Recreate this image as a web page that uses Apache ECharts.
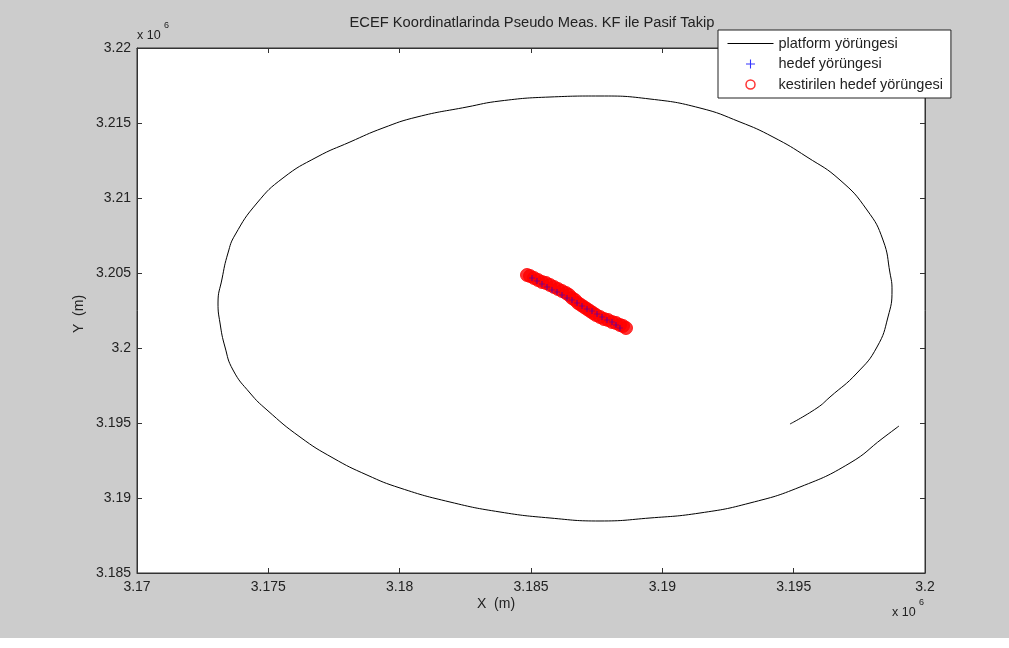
<!DOCTYPE html>
<html>
<head>
<meta charset="utf-8">
<script src="https://cdn.jsdelivr.net/npm/echarts@6/dist/echarts.min.js"></script>
<style>
  html, body { margin: 0; padding: 0; background: #ffffff; }
  #chart { width: 1009px; height: 638px; }
</style>
</head>
<body>
<div id="chart"></div>
<script>
"use strict";

// platform trajectory (x, y in metres)
var platformX = [3199010, 3198401, 3197145, 3195241, 3193338, 3191434, 3189530, 3187627, 3185723, 3183820,
  3181916, 3180013, 3178756, 3177462, 3176206, 3174949, 3174302, 3173655, 3173350, 3173160,
  3173084, 3173236, 3173464, 3173731, 3174569, 3175558, 3176853, 3178109, 3179365, 3180660,
  3182563, 3183820, 3185723, 3187627, 3189530, 3191434, 3192957, 3194213, 3195508, 3196764,
  3197792, 3198401, 3198667, 3198744, 3198591, 3198173, 3197411, 3196383, 3195888, 3194860];
var platformY = [3194800, 3194000, 3192333, 3190733, 3189667, 3189000, 3188667, 3188467, 3188667, 3189067,
  3189733, 3190667, 3191533, 3192667, 3194067, 3195867, 3197000, 3198533, 3200067, 3201667,
  3203000, 3204600, 3206333, 3207533, 3209667, 3211333, 3212733, 3213733, 3214667, 3215400,
  3216067, 3216467, 3216733, 3216800, 3216600, 3216000, 3215067, 3214067, 3212733, 3211200,
  3209200, 3207200, 3205000, 3203867, 3202067, 3200067, 3198333, 3196733, 3196000, 3194933];

// target trajectory
var targetX = [3185038, 3185228, 3185419, 3185609, 3185799, 3185990, 3186180, 3186371, 3186561, 3186751,
  3186942, 3187132, 3187322, 3187513, 3187703, 3187893, 3188084, 3188236, 3188388];
var targetY = [3204667, 3204467, 3204267, 3204067, 3203867, 3203733, 3203533, 3203333, 3203200, 3203000,
  3202800, 3202600, 3202467, 3202267, 3202067, 3201867, 3201733, 3201533, 3201333];

// estimated target trajectory
var estX = [3184848, 3184962, 3185114, 3185266, 3185419, 3185571, 3185723, 3185876, 3186028, 3186180,
  3186332, 3186447, 3186561, 3186675, 3186789, 3186904, 3187018, 3187132, 3187246, 3187360,
  3187475, 3187627, 3187779, 3187931, 3188084, 3188236, 3188388, 3188503, 3188617];
var estY = [3204867, 3204800, 3204667, 3204533, 3204400, 3204333, 3204200, 3204067, 3203933, 3203800,
  3203667, 3203533, 3203333, 3203200, 3203000, 3202867, 3202733, 3202600, 3202467, 3202333,
  3202200, 3202067, 3201933, 3201867, 3201733, 3201667, 3201533, 3201467, 3201333];

var xTicks = { min: 3170000, max: 3200000, step: 5000 };
var yTicks = { min: 3185000, max: 3220000, step: 5000 };

var seriesNames = ['platform yörüngesi', 'hedef yörüngesi', 'kestirilen hedef yörüngesi'];

function pairs(xs, ys) {
  var out = [];
  for (var i = 0; i < xs.length; i++) {
    out.push([xs[i], ys[i]]);
  }
  return out;
}

function scaled(v) {
  return String(parseFloat((v / 1e6).toFixed(3)));
}

var FONT = 'Liberation Sans, Arial, sans-serif';
var INK = '#222222';
var PLUS = 'path://M-0.6,-5H0.6V-0.6H5V0.6H0.6V5H-0.6V0.6H-5V-0.6H-0.6Z';

var chart = echarts.init(document.getElementById('chart'));

function axisBase(t) {
  return {
    type: 'value',
    min: t.min,
    max: t.max,
    interval: t.step,
    splitLine: { show: false },
    axisLine: { show: true, lineStyle: { color: '#333', width: 1 } },
    axisTick: { show: true, inside: true, length: 5, lineStyle: { color: '#333' } },
    axisLabel: { show: false }
  };
}

var xBottom = axisBase(xTicks);
xBottom.position = 'bottom';
xBottom.axisLabel = { show: true, formatter: scaled, color: INK, fontFamily: FONT, fontSize: 14, margin: 7 };
var xTop = axisBase(xTicks);
xTop.position = 'top';

var yLeft = axisBase(yTicks);
yLeft.position = 'left';
yLeft.axisLabel = { show: true, formatter: scaled, color: INK, fontFamily: FONT, fontSize: 14, margin: 6 };
var yRight = axisBase(yTicks);
yRight.position = 'right';

var option = {
  backgroundColor: '#cccccc',
  animation: false,
  title: {
    text: 'ECEF Koordinatlarinda Pseudo Meas. KF ile Pasif Takip',
    left: 527,
    top: 10,
    textAlign: 'center',
    textStyle: { fontFamily: FONT, fontSize: 14.7, fontWeight: 'normal', color: INK }
  },
  grid: {
    left: 137, right: 84, top: 48, bottom: 65,
    show: true,
    backgroundColor: '#ffffff',
    borderColor: '#333',
    borderWidth: 1
  },
  legend: {
    orient: 'vertical',
    left: 718,
    top: 30,
    backgroundColor: '#ffffff',
    borderColor: '#222',
    borderWidth: 1,
    borderRadius: 0,
    padding: [6, 8, 6, 9],
    itemWidth: 46,
    itemHeight: 9,
    itemGap: 5.5,
    textStyle: { fontFamily: FONT, fontSize: 14.5, color: INK, lineHeight: 14 },
    data: [
      { name: seriesNames[0], itemStyle: { opacity: 0 }, lineStyle: { width: 1, color: '#000' } },
      { name: seriesNames[1], icon: PLUS },
      { name: seriesNames[2], itemStyle: { color: 'rgba(255,0,0,0)', borderColor: '#ff0000', borderWidth: 1.5 } }
    ]
  },
  xAxis: [xBottom, xTop],
  yAxis: [yLeft, yRight],
  graphic: [
    { type: 'text', x: 477, y: 597, style: { text: 'X  (m)', fontFamily: FONT, fontSize: 14, fill: INK } },
    { type: 'text', x: 72, y: 333, rotation: Math.PI / 2,
      style: { text: 'Y  (m)', fontFamily: FONT, fontSize: 14, fill: INK } },
    { type: 'text', x: 137, y: 29, style: { text: 'x 10', fontFamily: FONT, fontSize: 12.5, fill: INK } },
    { type: 'text', x: 164, y: 21, style: { text: '6', fontFamily: FONT, fontSize: 9, fill: INK } },
    { type: 'text', x: 892, y: 606, style: { text: 'x 10', fontFamily: FONT, fontSize: 12.5, fill: INK } },
    { type: 'text', x: 919, y: 598, style: { text: '6', fontFamily: FONT, fontSize: 9, fill: INK } }
  ],
  series: [
    {
      name: seriesNames[0],
      type: 'line',
      data: pairs(platformX, platformY),
      smooth: 0.5,
      showSymbol: false,
      symbol: 'none',
      lineStyle: { color: '#000000', width: 1 },
      itemStyle: { color: '#000000' },
      z: 2
    },
    {
      name: seriesNames[1],
      type: 'scatter',
      data: pairs(targetX, targetY),
      symbol: PLUS,
      symbolSize: 6,
      itemStyle: { color: '#0000ff' },
      z: 4
    },
    {
      name: seriesNames[2],
      type: 'scatter',
      data: pairs(estX, estY),
      symbol: 'circle',
      symbolSize: 13,
      itemStyle: { color: '#ff0000', borderColor: '#ff0000', borderWidth: 1 },
      z: 3
    }
  ]
};

chart.setOption(option);
</script>
</body>
</html>
